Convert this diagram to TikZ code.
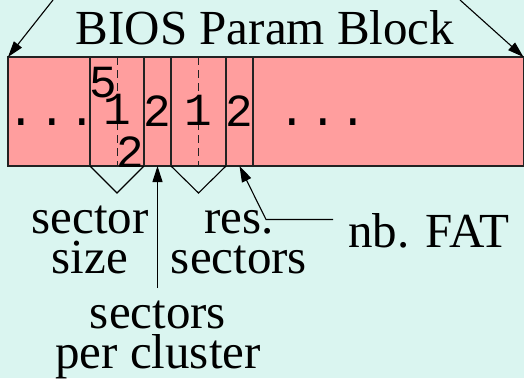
\documentclass[tikz,border=0pt]{standalone}
\usepackage{fontspec}
\setmainfont{Liberation Serif}
\newfontfamily\digitfont{Liberation Mono}
\usetikzlibrary{positioning,arrows.meta}
\definecolor{bgc}{RGB}{218,245,240}
\definecolor{blockc}{RGB}{255,158,158}
\definecolor{linec}{RGB}{34,34,34}

\begin{document}
\begin{tikzpicture}[
  x=1pt, y=-1pt,
  node distance=0pt,
  cell/.style={draw=linec,fill=blockc,line width=1.1pt,minimum height=109pt,inner sep=0pt,outer sep=0pt},
  lbl/.style={inner sep=0pt,align=center,font=\fontsize{49}{40}\selectfont},
  dig/.style={inner sep=0pt,font=\digitfont\fontsize{46}{46}\selectfont},
  arr/.style={-{Triangle[length=16pt,width=10pt]},line width=1.1pt},
  vee/.style={line width=1.1pt}
]
\fill[bgc] (0,0) rectangle (524,378);
\useasboundingbox (0,0) rectangle (524,378);

% the block
\node[cell,minimum width=82pt] (c0) at (49,111.5) {};
\node[cell,minimum width=54pt,right=of c0] (c1) {};
\node[cell,minimum width=27pt,right=of c1] (c2) {};
\node[cell,minimum width=55pt,right=of c2] (c3) {};
\node[cell,minimum width=27pt,right=of c3] (c4) {};
\node[cell,minimum width=270.5pt,right=of c4] (c5) {};
\draw[linec,line width=0.9pt,dash pattern=on 8pt off 5pt] (c1.north) -- (c1.south);
\draw[linec,line width=0.9pt,dash pattern=on 8pt off 5pt] (c3.north) -- (c3.south);

% contents
\node[dig] (dotsl) at (52,122) {.\kern3pt.\kern3pt.};
\node[dig] (d5) at (103,83) {5};
\node[dig] (d1) at (117,109) {1};
\node[dig] (d2) at (130,152) {2};
\node[dig] (spc2) at (157.5,111) {2};
\node[dig] (res1) at (198.5,110) {1};
\node[dig] (fat2) at (239.5,111) {2};
\node[dig] (dotsr) at (323,122) {.\kern3pt.\kern3pt.};

% labels
\node[lbl,anchor=base] (title) at (265,44) {BIOS Param Block};
\node[lbl,anchor=base] (size) at (90,273) {sector\\size};
\node[lbl,anchor=base] (res) at (239,273) {res.\\sectors};
\node[lbl,anchor=base] (spc) at (158,368) {sectors\\per cluster};
\node[lbl,anchor=base west] (fat) at (348,247) {nb. FAT};

% connectors
\coordinate (tl) at (53,0);
\coordinate (tr) at (460,0);
\draw[arr] (tl) -- (c0.north west);
\draw[arr] (tr) -- (c5.north east);
\coordinate (sizetip) at (117,193);
\coordinate (restip) at (198.5,193);
\draw[vee] (c1.south west) -- (sizetip) -- (c1.south east);
\draw[vee] (c3.south west) -- (restip) -- (c3.south east);
\coordinate (spcfoot) at (157.5,288);
\draw[arr] (spcfoot) -- (c2.south);
\draw[arr] ([xshift=-15pt,yshift=27.5pt]fat.base west) -- ++(-67,0) -- (c4.south);
\end{tikzpicture}
\end{document}
